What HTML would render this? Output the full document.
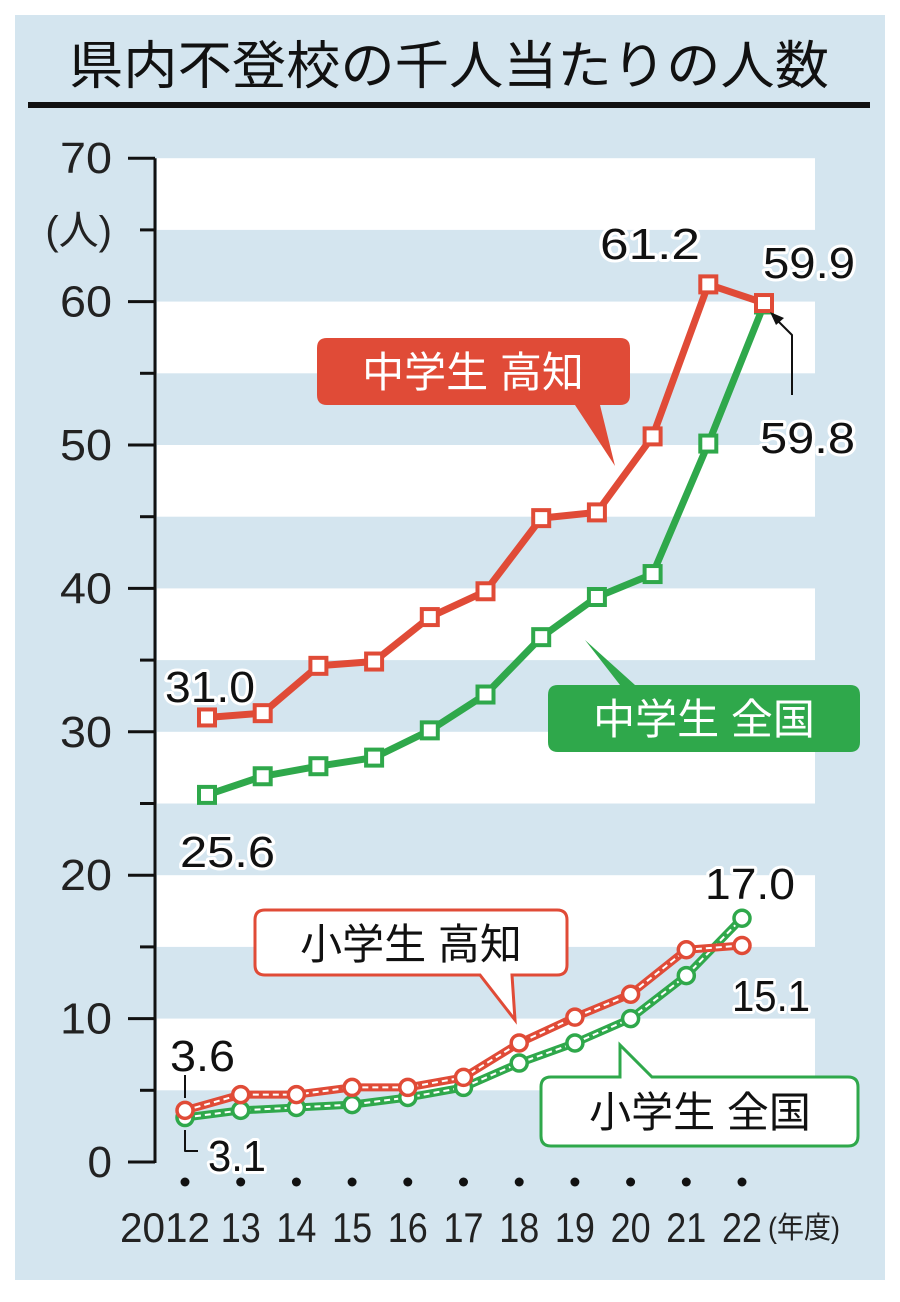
<!DOCTYPE html>
<html><head><meta charset="utf-8"><style>
html,body{margin:0;padding:0;background:#fff;}
svg text{font-family:"Liberation Sans","Noto Sans CJK JP",sans-serif;}
</style></head><body>
<svg id="chart" width="900" height="1297" viewBox="0 0 900 1297" xmlns="http://www.w3.org/2000/svg">
<rect x="15" y="15" width="870" height="1265" fill="#d4e5ef"/>
<text x="69" y="84" font-size="52" textLength="760" lengthAdjust="spacingAndGlyphs" fill="#111">県内不登校の千人当たりの人数</text>
<rect x="28" y="102" width="842" height="6" fill="#111"/>
<g id="stripes"></g>
<g id="axis"></g>
<g id="series"></g>
<g id="callouts">
 <path d="M327 338 H620 Q630 338 630 348 V395 Q630 405 620 405 H600 L615 466 L575 405 H327 Q317 405 317 395 V348 Q317 338 327 338 Z" fill="#e04b37"/>
 <text x="473" y="387" font-size="42" fill="#fff" text-anchor="middle">中学生 高知</text>
 <path d="M558 685 H620 L585 640 L635 685 H850 Q860 685 860 695 V742 Q860 752 850 752 H558 Q548 752 548 742 V695 Q548 685 558 685 Z" fill="#2fa84b"/>
 <text x="704" y="734" font-size="42" fill="#fff" text-anchor="middle">中学生 全国</text>
 <path d="M265 910 H557 Q567 910 567 920 V965 Q567 975 557 975 H512 L515 1020 L480 975 H265 Q255 975 255 965 V920 Q255 910 265 910 Z" fill="#fff" stroke="#e04b37" stroke-width="3"/>
 <text x="411" y="959" font-size="42" fill="#111" text-anchor="middle">小学生 高知</text>
 <path d="M551 1077 H620 L620 1045 L652 1077 H848 Q858 1077 858 1087 V1136 Q858 1146 848 1146 H551 Q541 1146 541 1136 V1087 Q541 1077 551 1077 Z" fill="#fff" stroke="#2fa84b" stroke-width="3"/>
 <text x="700" y="1127" font-size="42" fill="#111" text-anchor="middle">小学生 全国</text>
</g>
<g id="labels" font-size="44" fill="#111" stroke-linejoin="round">
 <text x="165" y="702" textLength="90" lengthAdjust="spacingAndGlyphs" stroke="#fff" stroke-width="6" paint-order="stroke">31.0</text>
 <text x="180" y="867" textLength="95" lengthAdjust="spacingAndGlyphs" stroke="#fff" stroke-width="6" paint-order="stroke">25.6</text>
 <text x="600" y="259" textLength="100" lengthAdjust="spacingAndGlyphs" stroke="#fff" stroke-width="6" paint-order="stroke">61.2</text>
 <text x="763" y="278" textLength="92" lengthAdjust="spacingAndGlyphs" stroke="#fff" stroke-width="6" paint-order="stroke">59.9</text>
 <text x="760" y="453" textLength="95" lengthAdjust="spacingAndGlyphs" stroke="#fff" stroke-width="6" paint-order="stroke">59.8</text>
 <text x="705" y="899" textLength="90" lengthAdjust="spacingAndGlyphs" stroke="#fff" stroke-width="6" paint-order="stroke">17.0</text>
 <text x="732" y="1011" textLength="78" lengthAdjust="spacingAndGlyphs" stroke="#fff" stroke-width="6" paint-order="stroke">15.1</text>
 <text x="170" y="1071" textLength="65" lengthAdjust="spacingAndGlyphs" stroke="#fff" stroke-width="6" paint-order="stroke">3.6</text>
 <text x="208" y="1171" textLength="58" lengthAdjust="spacingAndGlyphs" stroke="#fff" stroke-width="6" paint-order="stroke">3.1</text>
 <path d="M792 395 V335 L775 318" stroke="#111" stroke-width="2" fill="none"/>
 <path d="M770 312 L784 318 L776 325 Z" fill="#111"/>
 <path d="M185 1075 V1098" stroke="#111" stroke-width="2"/>
 <path d="M185 1130 V1151 H198" stroke="#111" stroke-width="2" fill="none"/>
</g>
</svg>
<script>
const years = ["2012","13","14","15","16","17","18","19","20","21","22"];
const jhKochi = [31.0,31.3,34.6,34.9,38.0,39.8,44.9,45.3,50.6,61.2,59.9];
const jhNational = [25.6,26.9,27.6,28.2,30.1,32.6,36.6,39.4,41.0,50.1,59.8];
const elKochi = [3.6,4.7,4.7,5.2,5.2,5.9,8.3,10.1,11.7,14.8,15.1];
const elNational = [3.1,3.6,3.8,4.0,4.5,5.2,6.9,8.3,10.0,13.0,17.0];
const yTicks = [0,10,20,30,40,50,60,70];

const NS="http://www.w3.org/2000/svg";
const y0=1162, pxPerUnit=14.34;
function yScale(v){return y0 - v*pxPerUnit;}
function xScale(i){return 185 + i*55.7;}
function mk(tag,attrs,parent){const e=document.createElementNS(NS,tag);for(const k in attrs)e.setAttribute(k,attrs[k]);parent.appendChild(e);return e;}

const stripes=document.getElementById('stripes');
for(let v=5; v<70; v+=10){
  const r=mk('rect',{x:157,y:yScale(v+5),width:658,height:5*pxPerUnit,fill:'#fff'},stripes);
  
  
}
const axis=document.getElementById('axis');
const al=mk('line',{x1:155,y1:yScale(70),x2:155,y2:y0+1,stroke:'#111','stroke-width':3},axis);


for(let v=0; v<=70; v+=5){
  const major=v%10===0;
  const t=mk('line',{x1:major?128:140,y1:yScale(v),x2:155,y2:yScale(v),stroke:'#111','stroke-width':3},axis);
  
  
}
yTicks.forEach(v=>{
  const t=mk('text',{x:112,y:yScale(v)+15,'font-size':44,'text-anchor':'end',fill:'#222'},axis);
  t.textContent=String(v);
  if(v>0){t.setAttribute('textLength',v>=10?52:26);t.setAttribute('lengthAdjust','spacingAndGlyphs');}
  
  
});
const unit=mk('text',{x:112,y:yScale(65)+14,'font-size':40,'text-anchor':'end',fill:'#222'},axis);
unit.textContent='(人)';


years.forEach((yr,i)=>{
  const d=mk('circle',{cx:xScale(i),cy:1182,r:4.5,fill:'#111'},axis);
  
  
  const first=yr.length===4;
  const t=mk('text',{x:first?xScale(i)+25:xScale(i),y:1242,'font-size':42,'text-anchor':first?'end':'middle',fill:'#222'},axis);
  t.textContent=yr;
  t.setAttribute('textLength',first?90:40);
  t.setAttribute('lengthAdjust','spacingAndGlyphs');
  
  
});
const fy=mk('text',{x:xScale(10)+26,y:1238,'font-size':30,fill:'#222',textLength:72,lengthAdjust:'spacingAndGlyphs'},axis);
fy.textContent='(年度)';



const series=document.getElementById('series');
function drawLine(vals,color,offset,name,dashed,marker){
  const pts=vals.map((v,i)=>[xScale(i)+offset,yScale(v)]);
  const d='M'+pts.map(p=>p[0].toFixed(1)+' '+p[1].toFixed(1)).join(' L');
  const l=mk('path',{d:d,fill:'none',stroke:color,'stroke-width':dashed?8:7,'stroke-linejoin':'round'},series);
  
  
  if(dashed){
    const l2=mk('path',{d:d,fill:'none',stroke:'#fff','stroke-width':2,'stroke-dasharray':'6 4'},series);
    
    
  }
  pts.forEach(p=>{
    let m;
    if(marker==='square') m=mk('rect',{x:p[0]-8,y:p[1]-8,width:16,height:16,fill:'#fff',stroke:color,'stroke-width':4},series);
    else m=mk('circle',{cx:p[0],cy:p[1],r:8,fill:'#fff',stroke:color,'stroke-width':3.5},series);
    
    
  });
}
drawLine(jhNational,'#2fa84b',22,'jh-national',false,'square');
drawLine(jhKochi,'#e04b37',22,'jh-kochi',false,'square');
drawLine(elNational,'#2fa84b',0,'el-national',true,'circle');
drawLine(elKochi,'#e04b37',0,'el-kochi',true,'circle');
</script>
</body></html>
